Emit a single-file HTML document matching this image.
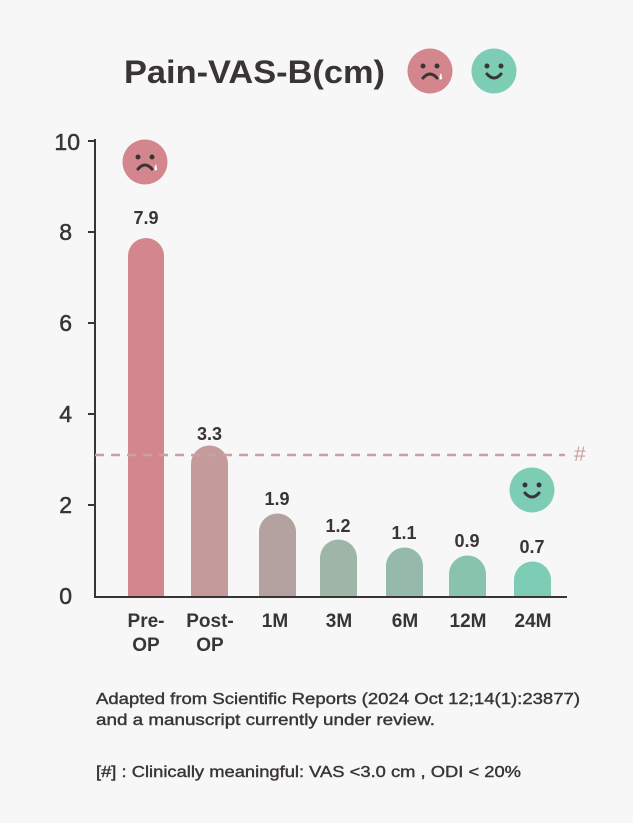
<!DOCTYPE html>
<html><head><meta charset="utf-8"><style>
html,body{margin:0;padding:0;background:#f7f7f7}
svg{display:block}
text{font-family:"Liberation Sans","DejaVu Sans",sans-serif;fill:#3a3535}
</style></head><body>
<svg width="633" height="823" viewBox="0 0 633 823" xmlns="http://www.w3.org/2000/svg">
<rect width="633" height="823" fill="#f7f7f7"/>
<text x="124" y="83" font-size="32" font-weight="bold" textLength="261" lengthAdjust="spacingAndGlyphs">Pain-VAS-B(cm)</text>
<circle cx="430" cy="71" r="22.5" fill="#d4868f"/>
<circle cx="423" cy="66" r="2.5" fill="#3a3535"/><circle cx="437" cy="66" r="2.5" fill="#3a3535"/>
<path d="M423 78 Q430 70 437 78" stroke="#3a3535" stroke-width="3" fill="none" stroke-linecap="round"/>
<path d="M441 73 q-2.5 4 -1 6.5 q2.5 0 2 -2 z" fill="#fff"/>
<circle cx="494" cy="71" r="22.5" fill="#7dcdb5"/>
<circle cx="487" cy="66" r="2.5" fill="#3a3535"/><circle cx="501" cy="66" r="2.5" fill="#3a3535"/>
<path d="M487 74 Q494 82 501 74" stroke="#3a3535" stroke-width="3" fill="none" stroke-linecap="round"/>
<circle cx="145" cy="162" r="22.5" fill="#d4868f"/>
<circle cx="138" cy="157" r="2.5" fill="#3a3535"/><circle cx="152" cy="157" r="2.5" fill="#3a3535"/>
<path d="M138 169 Q145 161 152 169" stroke="#3a3535" stroke-width="3" fill="none" stroke-linecap="round"/>
<path d="M156 164 q-2.5 4 -1 6.5 q2.5 0 2 -2 z" fill="#fff"/>
<circle cx="532" cy="490" r="22.5" fill="#7dcdb5"/>
<circle cx="525" cy="485" r="2.5" fill="#3a3535"/><circle cx="539" cy="485" r="2.5" fill="#3a3535"/>
<path d="M525 493 Q532 501 539 493" stroke="#3a3535" stroke-width="3" fill="none" stroke-linecap="round"/>
<g stroke="#3a3535" stroke-width="2">
<line x1="95" y1="139" x2="95" y2="598"/>
<line x1="94" y1="597" x2="567" y2="597"/>
<line x1="88" y1="141" x2="95" y2="141"/><line x1="88" y1="232" x2="95" y2="232"/>
<line x1="88" y1="323" x2="95" y2="323"/><line x1="88" y1="414" x2="95" y2="414"/>
<line x1="88" y1="505" x2="95" y2="505"/>
</g>
<g font-size="23" text-anchor="end" stroke="#3a3535" stroke-width="0.5">
<text x="80" y="150">10</text><text x="72" y="240">8</text><text x="72" y="331">6</text>
<text x="72" y="422">4</text><text x="72" y="513">2</text><text x="72" y="604">0</text>
</g>
<g>
<path d="M128 596 V256 A18 18 0 0 1 164 256 V596Z" fill="#d4868f"/>
<path d="M191 596 V464 A18.5 18.5 0 0 1 228 464 V596Z" fill="#c49a9a"/>
<path d="M259 596 V532 A18.5 18.5 0 0 1 296 532 V596Z" fill="#b3a29f"/>
<path d="M320 596 V558 A18.5 18.5 0 0 1 357 558 V596Z" fill="#9eb5a8"/>
<path d="M386 596 V566 A18.5 18.5 0 0 1 423 566 V596Z" fill="#95b9aa"/>
<path d="M449 596 V574 A18.5 18.5 0 0 1 486 574 V596Z" fill="#88c3ad"/>
<path d="M514 596 V580 A18.5 18.5 0 0 1 551 580 V596Z" fill="#7dcdb5"/>
</g>
<line x1="95" y1="455" x2="565" y2="455" stroke="#c9a0a3" stroke-width="2.5" stroke-dasharray="9,7"/>
<text x="574" y="461" font-size="21" style="fill:#c9a0a3">#</text>
<g font-size="18" font-weight="bold" text-anchor="middle">
<text x="146" y="224">7.9</text><text x="209.5" y="440">3.3</text><text x="277" y="505">1.9</text>
<text x="338" y="532">1.2</text><text x="404" y="539">1.1</text><text x="467" y="547">0.9</text>
<text x="532" y="553">0.7</text>
</g>
<g font-size="19" font-weight="bold" text-anchor="middle">
<text x="146" y="627">Pre-</text><text x="146" y="651">OP</text>
<text x="210" y="627">Post-</text><text x="210" y="651">OP</text>
<text x="275" y="627">1M</text><text x="339" y="627">3M</text><text x="405" y="627">6M</text>
<text x="468" y="627">12M</text><text x="533" y="627">24M</text>
</g>
<g font-size="16" stroke="#3a3535" stroke-width="0.4">
<text x="96" y="704" textLength="484" lengthAdjust="spacingAndGlyphs">Adapted from Scientific Reports (2024 Oct 12;14(1):23877)</text>
<text x="96" y="725" textLength="339" lengthAdjust="spacingAndGlyphs">and a manuscript currently under review.</text>
<text x="96" y="777" textLength="425" lengthAdjust="spacingAndGlyphs">[#] : Clinically meaningful: VAS &lt;3.0 cm , ODI &lt; 20%</text>
</g>
</svg>
</body></html>
